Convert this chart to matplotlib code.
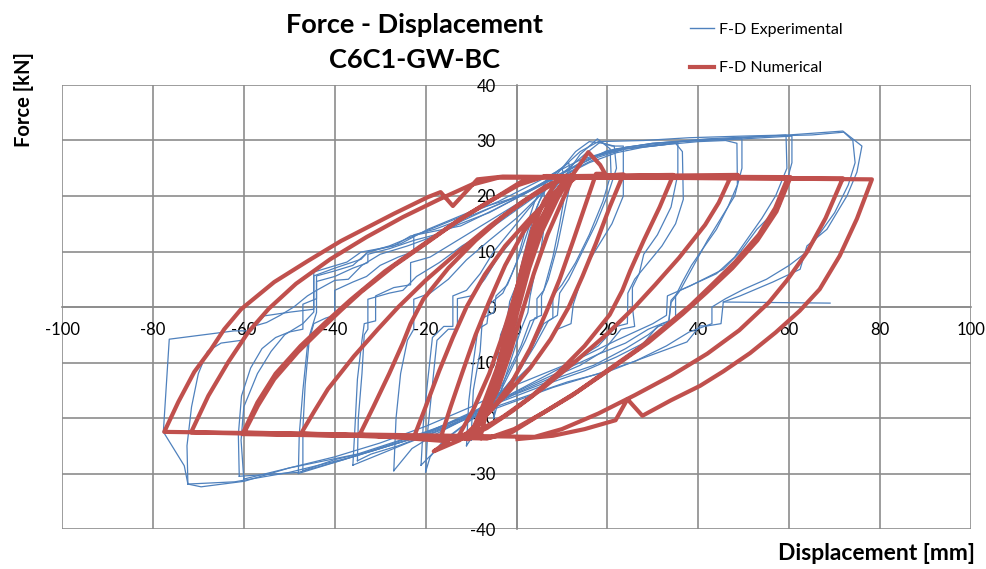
import matplotlib
matplotlib.use("Agg")
import matplotlib.pyplot as plt
from matplotlib.lines import Line2D

plt.rcParams['font.family'] = ['Lato', 'DejaVu Sans']
plt.rcParams['axes.unicode_minus'] = False

# ---- numerical (red) branches: reloading (up) and unloading (down), kN vs mm ----
red_up_3 = [(-8.0, -23.6), (-6.0, -17.0), (-4.0, -10.5), (-2.0, -4.0), (-0.3, 2.0), (1.5, 8.0),
            (3.5, 14.0), (6.0, 19.0), (9.0, 22.8), (11.0, 23.7)]
red_dn_3 = [(11.0, 23.7), (8.5, 20.0), (5.5, 14.5), (3.0, 8.5), (1.0, 2.5), (-1.0, -4.0),
            (-3.3, -11.0), (-6.0, -17.5), (-9.0, -22.5), (-11.0, -23.8)]
red_up_5 = [(-10.5, -23.8), (-7.5, -18.0), (-4.5, -11.5), (-2.0, -5.0), (0.0, 1.0), (2.0, 7.5),
            (4.5, 14.0), (7.5, 19.0), (10.5, 22.8), (12.0, 23.8)]
red_dn_5 = [(12.0, 23.8), (9.0, 19.5), (5.5, 13.5), (2.8, 7.0), (0.5, 0.0), (-1.8, -7.0),
            (-4.5, -13.5), (-7.5, -19.0), (-10.5, -23.8)]
red_up_10 = [(-13.0, -23.6), (-9.5, -18.5), (-6.0, -12.0), (-3.0, -5.0), (-0.8, 1.0), (1.5, 7.5),
             (4.0, 13.5), (7.0, 18.5), (10.0, 22.0), (12.5, 23.6)]
red_dn_10 = [(12.5, 23.6), (10.0, 19.0), (6.8, 13.0), (3.8, 6.0), (1.2, -1.0), (-1.3, -8.0),
             (-4.2, -15.0), (-7.5, -20.5), (-11.0, -23.3), (-13.0, -23.6)]
red_up_17 = [(-16.7, -23.6), (-14.5, -18.0), (-12.0, -12.0), (-9.0, -5.0), (-6.0, 1.0), (-2.5, 7.5),
             (1.5, 13.5), (6.0, 18.5), (10.5, 22.5), (12.5, 24.0), (15.8, 27.9), (18.4, 25.6),
             (19.5, 24.0)]
red_dn_17 = [(17.5, 24.0), (15.0, 18.0), (12.5, 12.0), (9.5, 5.0), (6.5, -1.0), (3.0, -7.5),
             (-1.0, -13.5), (-5.5, -18.5), (-10.0, -22.5), (-14.0, -23.8)]
red_up_23 = [(-22.6, -23.5), (-20.0, -18.0), (-17.0, -11.5), (-14.0, -5.5), (-11.0, 0.0), (-7.0, 5.8),
             (-2.5, 11.0), (3.0, 16.0), (8.5, 20.5), (13.0, 23.3)]
red_dn_23 = [(23.5, 23.9), (20.5, 18.0), (17.5, 11.5), (14.5, 5.5), (11.5, 0.0), (7.5, -5.8),
             (3.0, -11.0), (-2.5, -16.0), (-8.0, -20.5), (-12.5, -24.0), (-18.2, -26.0),
             (-15.0, -24.2)]
red_up_35 = [(-34.5, -23.0), (-31.5, -18.0), (-28.0, -12.0), (-25.0, -6.5), (-23.3, -3.0),
             (-20.5, 1.4), (-15.0, 7.0), (-9.0, 12.0), (-3.0, 16.3), (3.0, 19.8), (9.0, 22.6),
             (13.5, 23.6)]
red_dn_35 = [(34.5, 23.8), (31.5, 18.0), (28.0, 12.0), (25.0, 6.5), (23.3, 3.0), (20.5, -1.4),
             (15.0, -7.0), (9.0, -12.0), (3.0, -16.3), (-3.0, -19.8), (-9.0, -22.6), (-13.5, -23.7)]
red_up_47 = [(-47.4, -22.8), (-44.5, -18.8), (-41.5, -14.8), (-35.8, -8.9), (-30.5, -4.0),
             (-26.0, 0.0), (-20.0, 4.8), (-13.0, 9.8), (-6.0, 14.5), (1.0, 18.8), (6.5, 21.8),
             (11.0, 23.5)]
red_dn_47 = [(48.7, 23.8), (47.2, 23.6), (44.5, 18.8), (41.5, 14.8), (35.8, 8.9), (30.5, 4.0),
             (26.0, 0.0), (20.0, -4.8), (13.0, -9.8), (6.0, -14.5), (-1.0, -18.8), (-6.5, -21.8),
             (-11.0, -23.6)]
red_up_60 = [(-59.9, -22.6), (-56.9, -17.8), (-53.3, -13.0), (-48.1, -8.1), (-43.0, -4.0),
             (-38.5, -0.5), (-34.2, 2.7), (-27.0, 7.4), (-19.5, 11.7), (-12.3, 15.9), (-5.0, 19.5),
             (0.9, 22.5), (6.0, 23.5)]
red_dn_60 = [(59.7, 23.3), (56.9, 17.8), (53.3, 13.0), (48.1, 8.1), (43.0, 4.0), (38.3, 0.3),
             (33.5, -3.0), (27.0, -7.4), (19.5, -11.7), (12.3, -15.9), (5.0, -19.5), (-0.9, -22.5),
             (-6.0, -23.6)]
red_up_60b = [(-60.3, -22.9), (-57.0, -17.2), (-53.0, -12.0), (-47.5, -7.0), (-41.8, -2.6),
              (-36.5, 1.3), (-29.0, 6.4), (-21.0, 11.0), (-13.5, 15.2), (-6.0, 19.0), (0.5, 22.0),
              (6.5, 23.6)]
red_dn_60b = [(60.3, 23.4), (57.2, 17.2), (53.0, 12.0), (47.5, 7.0), (41.8, 2.6), (36.5, -1.3),
              (29.0, -6.4), (21.0, -11.0), (13.5, -15.2), (6.0, -19.0), (-0.5, -22.0), (-6.5, -23.7)]
red_up_72 = [(-71.6, -22.6), (-67.8, -16.0), (-63.4, -9.9), (-59.0, -4.5), (-54.5, -0.3),
             (-48.5, 4.2), (-41.0, 8.6), (-33.0, 12.6), (-25.0, 16.2), (-17.0, 19.4), (-10.0, 22.0),
             (-4.0, 23.3)]
red_dn_72 = [(71.8, 23.2), (68.0, 16.0), (64.0, 10.0), (59.5, 4.8), (55.5, 0.8), (49.0, -4.2),
             (42.0, -8.4), (34.0, -12.4), (26.0, -15.9), (18.0, -19.2), (10.0, -22.0), (4.0, -23.4)]
red_up_78 = [(-77.5, -22.5), (-74.4, -17.1), (-70.9, -11.7), (-67.2, -7.6), (-64.3, -4.0),
             (-60.6, -0.4), (-53.3, 4.5), (-45.9, 8.3), (-38.6, 11.9), (-27.0, 16.8), (-19.5, 19.8),
             (-16.7, 20.7), (-14.0, 18.2), (-8.6, 23.0), (-3.0, 23.5)]
red_dn_78 = [(78.2, 23.0), (74.9, 15.9), (71.1, 9.2), (66.7, 3.2), (62.3, -0.7), (57.0, -4.6),
             (51.4, -8.3), (45.5, -11.6), (40.4, -14.2), (34.0, -16.8), (27.7, -19.6), (24.4, -16.6),
             (21.8, -20.4), (15.0, -22.0), (8.0, -23.2), (0.2, -23.8)]

red_order = [red_up_3, red_dn_3, red_up_5, red_dn_5, red_up_10, red_dn_10, red_up_17, red_dn_17,
             red_up_23, red_dn_23, red_up_35, red_dn_35, red_up_47, red_dn_47, red_up_60, red_dn_60,
             red_up_60b, red_dn_60b, red_up_72, red_dn_72, red_up_78, red_dn_78]

# ---- experimental (blue) cycles ----
blue_5 = [(-5, -20), (-4.5, -12), (-3.5, -5), (-2, -2), (-1.5, 1), (0, 4), (1.5, 9), (3, 14),
          (4.5, 18), (6, 21), (6.5, 17), (5.5, 11), (4, 6), (3, 2), (2.5, -1), (1, -4), (-1, -9),
          (-3, -14), (-5, -20)]
blue_10 = [(-10, -24), (-9.5, -15), (-8, -8), (-7.5, -2), (-5, -1), (-4.5, 2), (-2, 4), (0, 8),
           (2, 14), (4, 19), (6, 22), (8, 24), (10, 25), (11, 22), (9.5, 15), (8, 9), (6, 3),
           (4.5, 1.5), (4.5, -2), (3, -2.5), (1, -7), (-2, -12), (-5, -17), (-8, -21), (-10, -24)]
blue_10b = [(-11, -25), (-10.5, -17), (-9.5, -10), (-8.5, -4), (-6.5, -3), (-6, 0.5), (-3, 2.5),
            (-1, 6), (1, 10), (3, 15), (5, 19), (7, 22), (9, 24.5), (11.5, 26), (12, 23), (10.5, 17),
            (9, 11), (7, 5), (5.5, 2), (5.5, -1.5), (4, -2), (2, -6), (-1, -11), (-4, -16), (-7, -20),
            (-11, -25)]
blue_20 = [(-20, -29.7), (-19.5, -22), (-18.5, -14), (-17.5, -6), (-15, -4), (-13, -4), (-13, 1.5),
           (-10, 2), (-7, 5), (-4, 9), (0, 13), (4, 17), (8, 21), (11, 24), (14, 27.5), (17.8, 30.3),
           (20.6, 28.5), (20.8, 24), (19, 19), (16, 13), (13, 8), (10, 4), (8, 2), (8, -2), (6, -3),
           (3, -8), (0, -12), (-4, -16), (-8, -19), (-12, -21.5), (-16, -24), (-19, -27), (-20, -29.7)]
blue_20b = [(-21, -28.5), (-20.5, -21), (-19.5, -13), (-18.5, -5.5), (-16, -3.5), (-14, -3.5),
            (-14, 2), (-11, 3), (-8, 6), (-5, 10), (-1, 14), (3, 18), (7, 22), (10, 25), (13, 28),
            (16, 29.8), (19, 29.5), (21.5, 29), (22, 25), (20, 20), (17.5, 15), (14.5, 10),
            (11.5, 5), (9.5, 2.5), (9, -1.5), (7, -2.5), (4, -7), (1, -11), (-3, -15), (-7, -18.5),
            (-11, -21), (-15, -23.5), (-18, -26), (-21, -28.5)]
blue_25 = [(-27, -29.5), (-26.5, -20), (-25.5, -12), (-24, -6), (-22.6, -4), (-22.6, 1.4), (-19, 2.5),
           (-15, 5), (-11, 8.5), (-6, 12), (0, 16), (5, 20), (10, 24), (15, 27.5), (18.4, 29.7),
           (21, 29), (23.5, 29), (23.5, 20), (21, 15), (18, 11), (15, 7), (13.5, 3), (12.5, 0.5),
           (12, -3), (9, -4), (5, -9), (0, -13), (-6, -17), (-12, -20.5), (-18, -23), (-23, -25.5),
           (-27, -29.5)]
blue_35 = [(-35, -27.7), (-34.8, -20), (-34, -12), (-33.5, -5), (-32.7, -4), (-32.7, 1.4), (-28, 2.5),
           (-25, 3), (-22, 5.5), (-17, 8), (-12, 11), (-6, 14), (0, 17.5), (6, 21), (12, 24.5),
           (18, 27), (24, 28.5), (30, 29), (35, 29.5), (36.5, 28), (36.7, 19.4), (35, 15), (32, 11),
           (29, 8), (26, 5), (24.5, 2.5), (24.4, -3), (22, -3.5), (18, -7), (12, -10), (5, -13),
           (-2, -16), (-10, -19.5), (-18, -22.5), (-26, -25), (-32, -26.5), (-35, -27.7)]
blue_35b = [(-36, -28.5), (-35.5, -21), (-35, -13), (-34, -6), (-33.5, -3), (-31, -2.5), (-31, 2),
            (-27, 3.5), (-23.3, 4), (-23.3, 8), (-19, 9), (-14, 11.5), (-8, 14.5), (-2, 17.5),
            (4, 20.5), (10, 23.5), (16, 26), (22, 27.8), (28, 28.8), (33, 29.3), (35.5, 29.8),
            (35.5, 24), (34, 18), (31, 13), (28, 9.5), (27, 6), (25.5, 3.5), (25.5, 0), (26, -3.5),
            (23, -4), (19, -8), (14, -10.5), (7, -13), (0, -15.5), (-8, -19), (-16, -22),
            (-24, -24.5), (-30, -26.5), (-36, -28.5)]
blue_47 = [(-47, -29.5), (-47, -22), (-46.5, -14), (-45.5, -5), (-44, -1), (-44, 5.6), (-40, 6.5),
           (-36, 7.5), (-32.7, 9.9), (-28, 11), (-22, 13), (-16, 15), (-10, 17), (-4, 19), (2, 21.5),
           (8, 24), (14, 26.5), (20, 28), (28, 29), (36, 29.8), (43, 30.2), (49.6, 30.3), (49.6, 25),
           (48, 20), (45, 16), (42, 12), (40, 9), (38, 6), (36, 3), (34, 1.2), (33.5, -3), (31, -3.5),
           (28, -6.5), (22, -9), (15, -11.5), (8, -13.5), (0, -16), (-8, -18.5), (-16, -21.5),
           (-24, -24), (-32, -26), (-40, -27.5), (-47, -29.5)]
blue_47b = [(-48, -30), (-47.8, -23), (-47, -15), (-46, -7), (-44.6, -3), (-42, -2), (-40, -1.5),
            (-40, 3), (-36, 4.5), (-33, 5.5), (-30, 7.5), (-26, 9), (-22.6, 10), (-22.6, 13),
            (-18, 14), (-12, 15.8), (-6, 17.8), (0, 19.8), (6, 22.5), (12, 25), (18, 27.3),
            (24, 28.5), (32, 29.2), (40, 29.8), (46, 30), (48.5, 29.5), (48.6, 22), (46.5, 18),
            (44, 14), (41, 10.5), (38.5, 7.5), (36.5, 4.5), (35, 2), (35, -2.5), (32, -3), (29, -5),
            (24, -7.5), (17, -10.5), (10, -12.5), (2, -15), (-6, -17.5), (-14, -20.5), (-22, -23.5),
            (-30, -25.5), (-38, -27.5), (-48, -30)]
blue_60 = [(-60, -31), (-60.6, -24), (-60, -18), (-57, -12), (-54, -8), (-51, -5), (-47, -3),
           (-44.6, -0.9), (-44.6, 5.6), (-40, 7), (-34.2, 8.6), (-32.7, 9.9), (-25.5, 11.4),
           (-19.5, 14), (-8.6, 17.7), (0.9, 20), (8, 23), (15, 26.5), (22, 28.5), (30, 29.5),
           (40, 30), (50, 30.3), (60.6, 30.8), (60.6, 26), (58, 18.2), (52.9, 14), (49.2, 9.9),
           (45.5, 6.8), (38.2, 3.8), (33.2, 2), (33, -1.5), (30, -3), (22, -6), (12, -10), (0, -14),
           (-10, -18), (-20, -21.5), (-30, -24.5), (-40, -27), (-50, -29), (-60, -31)]
blue_60b = [(-61, -30.5), (-61.2, -23), (-60.5, -16), (-58.5, -11), (-56, -7.5), (-53, -5.5),
            (-50, -4.5), (-47, -4), (-47, 0.5), (-44, 1.5), (-44, 4.6), (-40, 5.5), (-36, 7),
            (-32.7, 8), (-32.7, 9.5), (-28, 10.5), (-22.6, 12), (-17, 13.2), (-13, 14.8), (-6, 17),
            (2, 20.5), (10, 24), (17, 27), (24, 28.8), (32, 29.6), (42, 30.1), (52, 30.6), (59.3, 31),
            (59.5, 25), (57, 20), (54, 16), (51, 12.5), (48, 9), (44, 6), (40, 4.5), (36, 3),
            (34, 0.8), (33.5, -2.5), (29, -4), (24, -6.5), (18, -8.5), (10, -11.5), (2, -14.5),
            (-8, -18.5), (-18, -22), (-28, -24.8), (-38, -27.5), (-48, -29.8), (-61, -30.5)]
blue_72 = [(-77.7, -22.5), (-76.4, -5.8), (-62.1, -4.3), (-58.4, -4.3), (-55.5, -1.6), (-49.6, -0.9),
           (-44.6, -0.4), (-44.6, 6.3), (-37.3, 8.1), (-34.2, 9.9), (-27, 11), (-23.3, 12.8),
           (-12.3, 14.6), (-5, 17.5), (0.9, 20), (6, 22.5), (10, 25), (14, 28), (18, 29.8),
           (28, 30), (38, 30.5), (50, 30.8), (60, 31), (71.8, 31.7), (76, 29), (74.9, 24.3),
           (72.7, 20), (68.3, 14), (63.9, 11), (62.4, 6.8), (56.4, 4.5), (49.2, 2), (45.5, 0.9),
           (45, -3), (42, -3.4), (40.4, -3.4), (37.5, -6.3), (27.2, -9.4), (20.6, -11.5),
           (11.2, -13.5), (0.2, -16.6), (-10, -19.5), (-20, -22.5), (-35, -26.5), (-50, -29),
           (-59.9, -31.4), (-69.4, -32.4), (-72.3, -31.9), (-73.1, -28.6), (-77.7, -22.5)]
blue_72b = [(-72.3, -31.9), (-72.5, -25), (-71.5, -18), (-70, -12), (-68, -8), (-65, -6.5),
            (-60.5, -6.0), (-58, -3.5), (-55, -2.8), (-52, -1.5), (-49, 0), (-46, 2), (-44, 3),
            (-40, 4.8), (-37, 5), (-34, 7.5), (-30, 9.5), (-24, 11), (-18, 12.8), (-12, 15.5),
            (-4, 18.5), (4, 21.5), (12, 25), (20, 28.2), (30, 29.5), (42, 30.3), (55, 30.8),
            (65, 31), (72, 31.5), (74, 30), (74.5, 26), (73, 22), (70, 17), (66.5, 13), (64, 10),
            (60, 7.5), (55, 5), (50, 3.2), (46, 1.5), (43, 0), (43, -3), (38, -4.5), (33, -7),
            (26, -9.8), (18, -12), (8, -14.5), (-2, -17.5), (-12, -20.5), (-22, -23.5), (-36, -27),
            (-50, -29.8), (-62, -31.5), (-72.3, -31.9)]
blue_end = [(45.5, 0.9), (69.0, 0.7)]

blue_order = [blue_5, blue_10, blue_10b, blue_20, blue_20b, blue_25, blue_35, blue_35b, blue_47,
              blue_47b, blue_60, blue_60b, blue_72, blue_72b, blue_end]

red_color = '#C0504D'
blue_color = '#4F81BD'
grid_color = '#8C8C8C'

fig = plt.figure(figsize=(9.87, 5.69), dpi=100)
ax = fig.add_axes([62/987, 1 - 529/569, 909/987, 444/569])

for seg in blue_order:
    ax.plot([p[0] for p in seg], [p[1] for p in seg], color=blue_color, lw=0.9, zorder=3)

rx, ry = [], []
for seg in red_order:
    rx += [p[0] for p in seg]
    ry += [p[1] for p in seg]
ax.plot(rx, ry, color=red_color, lw=3.0, zorder=4, solid_joinstyle='round')

ax.set_xlim(-100, 100)
ax.set_ylim(-40, 40)
ax.set_xticks(range(-100, 101, 20))
ax.set_yticks(range(-40, 41, 10))
ax.grid(True, color=grid_color, lw=1.2, zorder=1)
ax.set_axisbelow(True)
ax.spines['left'].set_position(('data', 0))
ax.spines['bottom'].set_position(('data', 0))
ax.spines['top'].set_visible(False)
ax.spines['right'].set_visible(False)
for s in ['left', 'bottom']:
    ax.spines[s].set_color(grid_color)
    ax.spines[s].set_linewidth(1.2)
ax.tick_params(axis='x', length=0, pad=11, labelsize=12, colors='black')
ax.tick_params(axis='y', length=0, pad=15, labelsize=12, colors='black')

fig.text(415/987, 1 - 25/569, 'Force - Displacement', ha='center', va='center',
         fontsize=19.5, fontweight='bold')
fig.text(415/987, 1 - 60/569, 'C6C1-GW-BC', ha='center', va='center',
         fontsize=19.5, fontweight='bold')
fig.text(24/987, 1 - 100/569, 'Force [kN]', rotation=90, ha='center', va='center',
         fontsize=14.5, fontweight='bold')
fig.text(975/987, 1 - 553/569, 'Displacement [mm]', ha='right', va='center',
         fontsize=16.5, fontweight='bold')

handles = [Line2D([], [], color=blue_color, lw=1.0), Line2D([], [], color=red_color, lw=3.0)]
fig.legend(handles, ['F-D Experimental', 'F-D Numerical'], loc='upper left',
           bbox_to_anchor=(676/987, 1 - 8/569), frameon=False, handlelength=1.5,
           labelspacing=1.55, handletextpad=0.3, fontsize=11.5)

fig.savefig('out.png', dpi=100)
